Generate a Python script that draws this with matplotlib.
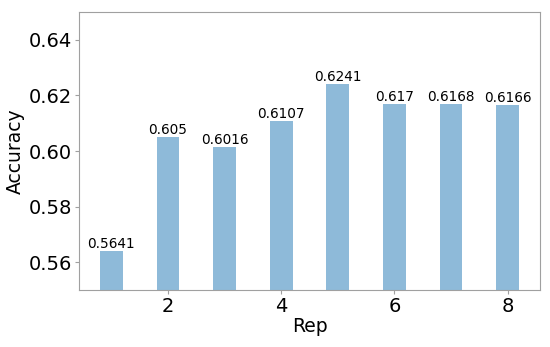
import matplotlib
matplotlib.use("Agg")
import matplotlib.pyplot as plt

reps = [1, 2, 3, 4, 5, 6, 7, 8]
accuracy = [0.5641, 0.605, 0.6016, 0.6107, 0.6241, 0.617, 0.6168, 0.6166]
labels = ["0.5641", "0.605", "0.6016", "0.6107", "0.6241", "0.617", "0.6168", "0.6166"]

fig = plt.figure(figsize=(5.5, 3.47), dpi=100)
ax = fig.add_axes([79/550, 1 - 290/347, (540-79)/550, (290-12)/347])
bars = ax.bar(reps, accuracy, width=0.4, color="#1f77b4", alpha=0.5)
for b, t in zip(bars, labels):
    ax.text(b.get_x() + b.get_width()/2, b.get_height(), t, ha="center", va="bottom", fontsize=9.8)
ax.set_ylim(0.55, 0.65)
ax.set_yticks([0.56, 0.58, 0.60, 0.62, 0.64])
ax.set_xticks([2, 4, 6, 8])
ax.tick_params(labelsize=14, length=3, pad=2, color="#a0a0a0")
ax.set_xlabel("Rep", fontsize=13.5, labelpad=1)
ax.set_ylabel("Accuracy", fontsize=13.5, labelpad=3)
for s in ax.spines.values():
    s.set_color("#a0a0a0")
fig.savefig("out.png", dpi=100)
